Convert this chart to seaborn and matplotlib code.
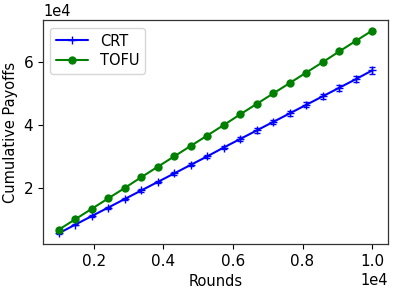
import numpy as np
import pandas as pd
import matplotlib
matplotlib.use('Agg')
import matplotlib.pyplot as plt
import seaborn as sns

# values
rounds = [1000, 1474, 1947, 2421, 2895, 3368, 3842, 4316, 4789, 5263,
          5737, 6211, 6684, 7158, 7632, 8105, 8579, 9053, 9526, 10000]
crt = [5750, 8500, 11200, 13900, 16600, 19300, 22000, 24700, 27400, 30100,
       32900, 35600, 38300, 41000, 43700, 46400, 49100, 51800, 54500, 57300]
crt_err = [200, 250, 300, 300, 350, 400, 400, 450, 500, 550,
           550, 600, 650, 700, 750, 800, 850, 900, 1000, 1100]
tofu = [6900, 10200, 13500, 16800, 20100, 23500, 26800, 30100, 33400, 36700,
        40000, 43400, 46700, 50000, 53300, 56600, 59900, 63300, 66600, 69900]

sns.set_style('ticks')
plt.rcParams['font.family'] = ['DejaVu Sans']
plt.rcParams['font.size'] = 10.5
plt.rcParams['text.color'] = 'black'
plt.rcParams['axes.labelcolor'] = 'black'
plt.rcParams['xtick.color'] = 'black'
plt.rcParams['ytick.color'] = 'black'

fig, ax = plt.subplots(figsize=(3.99, 2.92), dpi=100)
fig.subplots_adjust(left=0.108, right=0.972, bottom=0.164, top=0.93)

sns.lineplot(x=rounds, y=crt, color='b', marker='+', markersize=6,
             markeredgewidth=1.0, markeredgecolor='b', linewidth=1.5,
             label='CRT', ax=ax)
ax.errorbar(rounds, crt, yerr=crt_err, fmt='none', ecolor='b',
            elinewidth=1.0, capsize=2.5)
sns.lineplot(x=rounds, y=tofu, color='g', marker='o', markersize=6,
             markeredgewidth=0, linewidth=1.5, label='TOFU', ax=ax)

ax.ticklabel_format(style='sci', axis='both', scilimits=(0, 0))
ax.set_xticks([2000, 4000, 6000, 8000, 10000])
ax.set_yticks([20000, 40000, 60000])
ax.set_xlabel('Rounds', fontsize=10.5)
ax.set_ylabel('Cumulative Payoffs', fontsize=10.5)
ax.tick_params(labelsize=11, direction='out', length=3.5, width=0.8,
               colors='black')
for s in ax.spines.values():
    s.set_color('#333333')
    s.set_linewidth(0.9)
ax.legend(loc='upper left', fontsize=10.5, handlelength=2.2,
          labelspacing=0.3, framealpha=0.8)

plt.savefig('out.png', dpi=100)
